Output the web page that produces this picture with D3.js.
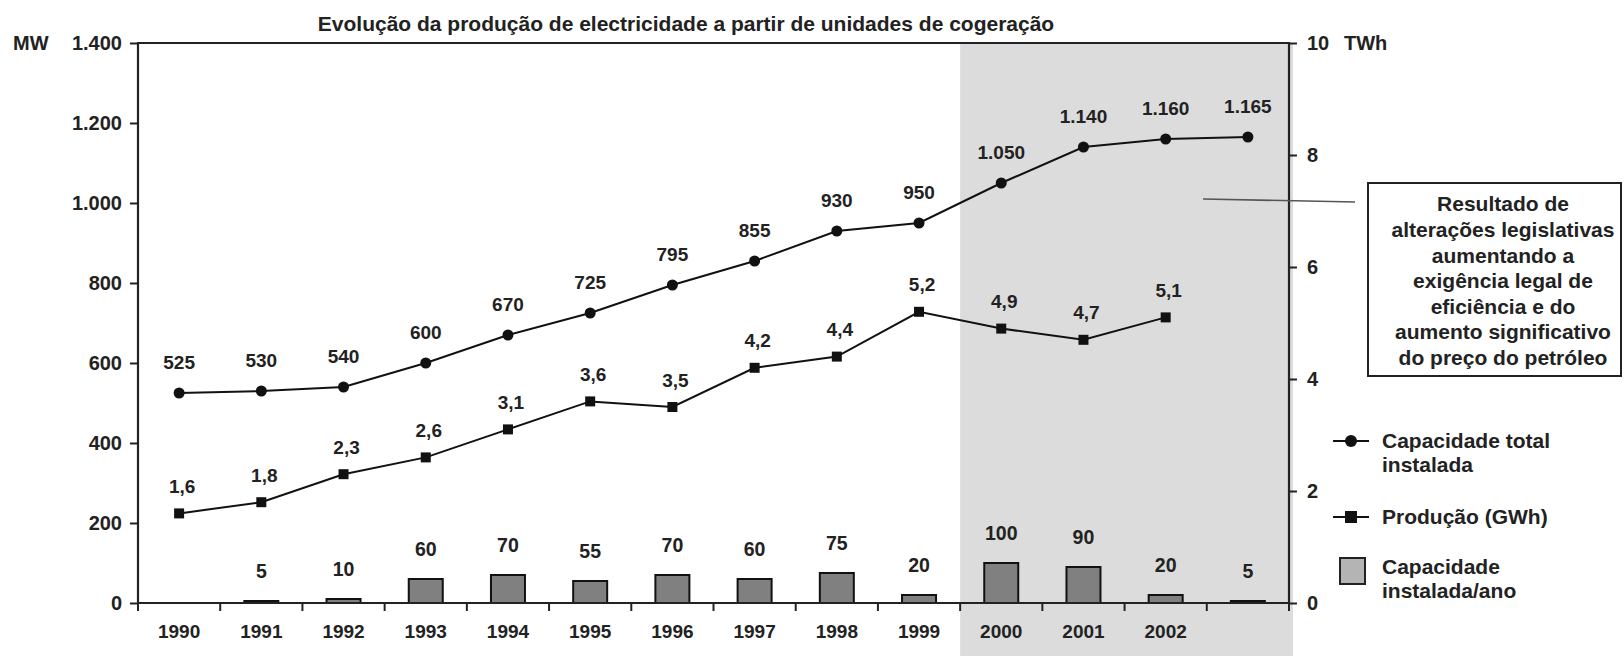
<!DOCTYPE html>
<html>
<head>
<meta charset="utf-8">
<script src="https://cdn.jsdelivr.net/npm/d3@7"></script>
<style>
  body { margin: 0; background: #fff; }
  svg { display: block; font-family: "Liberation Sans", Arial, sans-serif; font-weight: bold; fill: #222; }
</style>
</head>
<body>
<svg class="chart" width="1624" height="656"></svg>
<script>

// data
const years = [1990, 1991, 1992, 1993, 1994, 1995, 1996, 1997, 1998, 1999, 2000, 2001, 2002, 2003];
const yearLabels = ['1990', '1991', '1992', '1993', '1994', '1995', '1996', '1997', '1998', '1999', '2000', '2001', '2002', ''];
const capacityTotal = [525, 530, 540, 600, 670, 725, 795, 855, 930, 950, 1050, 1140, 1160, 1165];
const production = [1.6, 1.8, 2.3, 2.6, 3.1, 3.6, 3.5, 4.2, 4.4, 5.2, 4.9, 4.7, 5.1];
const capacityYear = [0, 5, 10, 60, 70, 55, 70, 60, 75, 20, 100, 90, 20, 5];
const mwTicks = [0, 200, 400, 600, 800, 1000, 1200, 1400];
const twhTicks = [0, 2, 4, 6, 8, 10];
const shadedFrom = 2000;

const titleText = 'Evolução da produção de electricidade a partir de unidades de cogeração';
const noteLines = ['Resultado de', 'alterações legislativas', 'aumentando a', 'exigência legal de',
	'eficiência e do', 'aumento significativo', 'do preço do petróleo'];
const legendItems = [
	{ kind: 'circle', lines: ['Capacidade total', 'instalada'] },
	{ kind: 'square', lines: ['Produção (GWh)'] },
	{ kind: 'box', lines: ['Capacidade', 'instalada/ano'] }
];

const pt = d3.formatLocale({ decimal: ',', thousands: '.', grouping: [3], currency: ['', ''] });
const fmtMW = pt.format(',');
const fmtTWh = pt.format(',.1f');

const svg = d3.select('.chart');
const plotLeft = 138, plotRight = 1289, plotTop = 43, plotBottom = 603;

const x = d3.scaleBand().domain(years).range([plotLeft, plotRight]);
const yL = d3.scaleLinear().domain([0, 1400]).range([plotBottom, plotTop]);
const yR = d3.scaleLinear().domain([0, 10]).range([plotBottom, plotTop]);
const cx = d => x(d) + x.bandwidth() / 2;

//shaded period
svg.append('rect')
	.attr('x', x(shadedFrom))
	.attr('y', plotTop)
	.attr('width', plotRight + 4 - x(shadedFrom))
	.attr('height', 656 - plotTop)
	.attr('fill', '#dcdcdc');

//title
svg.append('text')
	.attr('x', 686).attr('y', 31)
	.attr('text-anchor', 'middle')
	.attr('font-size', 21)
	.text(titleText);

//bars
const barW = 34;
const barYears = years.filter((d, i) => capacityYear[i] > 0);
const barVal = d => capacityYear[years.indexOf(d)];

svg.append('g').selectAll('rect')
	.data(barYears)
	.join('rect')
	.attr('x', d => cx(d) - barW / 2)
	.attr('y', d => yL(barVal(d)))
	.attr('width', barW)
	.attr('height', d => plotBottom - yL(barVal(d)))
	.attr('fill', '#808080')
	.attr('stroke', '#111')
	.attr('stroke-width', 2);

svg.append('g').selectAll('text')
	.data(barYears)
	.join('text')
	.attr('x', d => cx(d))
	.attr('y', d => yL(barVal(d)) - 30)
	.attr('dy', '0.35em')
	.attr('text-anchor', 'middle')
	.attr('font-size', 19.5)
	.text(d => barVal(d));

//axes
const axisStyle = g => {
	g.select('.domain').remove();
	g.selectAll('line').attr('stroke', '#222').attr('stroke-width', 2);
	g.selectAll('text').attr('fill', '#222').attr('font-size', 20).attr('font-weight', 'bold')
		.attr('font-family', '"Liberation Sans", Arial, sans-serif');
};

svg.append('g')
	.attr('transform', `translate(${plotLeft},0)`)
	.call(d3.axisLeft(yL).tickValues(mwTicks).tickFormat(fmtMW).tickSize(8).tickPadding(8))
	.call(axisStyle);

svg.append('g')
	.attr('transform', `translate(${plotRight},0)`)
	.call(d3.axisRight(yR).tickValues(twhTicks).tickSize(8).tickPadding(10))
	.call(axisStyle);

svg.append('g')
	.attr('transform', `translate(0,${plotBottom})`)
	.call(d3.axisBottom(x).tickFormat((d, i) => yearLabels[i]).tickSize(0).tickPadding(22))
	.call(axisStyle)
	.selectAll('text').attr('font-size', 19);

//tick marks between the years
const bounds = years.map(d => x(d)).concat([plotRight]);
svg.append('g').selectAll('line')
	.data(bounds)
	.join('line')
	.attr('x1', d => d).attr('x2', d => d)
	.attr('y1', plotBottom).attr('y2', plotBottom + 8)
	.attr('stroke', '#222').attr('stroke-width', 2);

//frame
svg.append('path')
	.attr('d', `M${plotLeft},${plotBottom}V${plotTop}H${plotRight}V${plotBottom}H${plotLeft}`)
	.attr('fill', 'none')
	.attr('stroke', '#222')
	.attr('stroke-width', 2.2);

svg.append('text').attr('x', 13).attr('y', plotTop).attr('dy', '0.35em').attr('font-size', 20).text('MW');
svg.append('text').attr('x', 1344).attr('y', plotTop).attr('dy', '0.35em').attr('font-size', 20).text('TWh');

//capacity line
svg.append('path')
	.datum(capacityTotal)
	.attr('d', d3.line().x((d, i) => cx(years[i])).y(d => yL(d)))
	.attr('fill', 'none').attr('stroke', '#111').attr('stroke-width', 2);

svg.append('g').selectAll('circle')
	.data(capacityTotal)
	.join('circle')
	.attr('cx', (d, i) => cx(years[i]))
	.attr('cy', d => yL(d))
	.attr('r', 5.5)
	.attr('fill', '#111');

svg.append('g').selectAll('text')
	.data(capacityTotal)
	.join('text')
	.attr('x', (d, i) => cx(years[i]))
	.attr('y', d => yL(d) - 31)
	.attr('dy', '0.35em')
	.attr('text-anchor', 'middle')
	.attr('font-size', 19)
	.text(d => fmtMW(d));

//production line
svg.append('path')
	.datum(production)
	.attr('d', d3.line().x((d, i) => cx(years[i])).y(d => yR(d)))
	.attr('fill', 'none').attr('stroke', '#111').attr('stroke-width', 2);

svg.append('g').selectAll('rect')
	.data(production)
	.join('rect')
	.attr('x', (d, i) => cx(years[i]) - 5)
	.attr('y', d => yR(d) - 5)
	.attr('width', 10).attr('height', 10)
	.attr('fill', '#111');

svg.append('g').selectAll('text')
	.data(production)
	.join('text')
	.attr('x', (d, i) => cx(years[i]) + 3)
	.attr('y', d => yR(d) - 27)
	.attr('dy', '0.35em')
	.attr('text-anchor', 'middle')
	.attr('font-size', 19)
	.text(d => fmtTWh(d));

//note box
svg.append('line')
	.attr('x1', 1203).attr('y1', 199).attr('x2', 1355).attr('y2', 202)
	.attr('stroke', '#555').attr('stroke-width', 1.6);

svg.append('rect')
	.attr('x', 1368).attr('y', 183).attr('width', 253).attr('height', 193)
	.attr('fill', '#fff').attr('stroke', '#222').attr('stroke-width', 2);

svg.append('g').selectAll('text')
	.data(noteLines)
	.join('text')
	.attr('x', 1503)
	.attr('y', (d, i) => 204 + i * 25.6)
	.attr('dy', '0.35em')
	.attr('text-anchor', 'middle')
	.attr('font-size', 21)
	.text(d => d);

//legend
const legendY = [441, 517, 567];
const legendG = svg.append('g');
legendItems.forEach((item, k) => {
	const g = legendG.append('g').attr('transform', `translate(0,${legendY[k]})`);
	if (item.kind === 'box') {
		g.append('rect').attr('x', 1340).attr('y', -9).attr('width', 25).attr('height', 26)
			.attr('fill', '#b4b4b4').attr('stroke', '#222').attr('stroke-width', 2);
	} else {
		g.append('line').attr('x1', 1333).attr('x2', 1369).attr('stroke', '#111').attr('stroke-width', 2);
		if (item.kind === 'circle') g.append('circle').attr('cx', 1351).attr('r', 6).attr('fill', '#111');
		else g.append('rect').attr('x', 1345).attr('y', -6).attr('width', 12).attr('height', 12).attr('fill', '#111');
	}
	g.selectAll('text')
		.data(item.lines)
		.join('text')
		.attr('x', 1382)
		.attr('y', (d, i) => i * 24)
		.attr('dy', '0.35em')
		.attr('font-size', 21)
		.text(d => d);
});

</script>
</body>
</html>
